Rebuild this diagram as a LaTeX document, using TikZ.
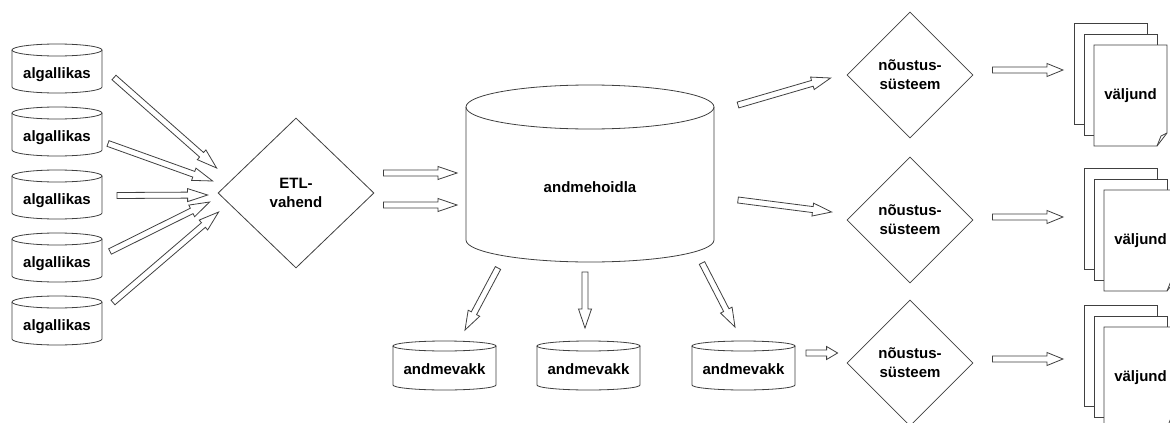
\documentclass[tikz,border=0pt]{standalone}
\usepackage{fontspec}
\setmainfont{Liberation Sans}
\usetikzlibrary{calc,shapes.geometric}
\definecolor{ln}{HTML}{404040}
\tikzset{
  lbl/.style={font=\bfseries\fontsize{15}{19}\selectfont, align=center, inner sep=0pt},
  shp/.style={draw=ln, line width=0.8pt},
  blk/.style={draw=ln, line width=0.8pt, fill=white, line join=miter},
  dia/.style={shp, diamond, aspect=1, inner sep=0pt, font=\bfseries\fontsize{15}{19}\selectfont, align=center},
}
\newcommand\barrow[3][17]{%
  \coordinate (ba) at (#2);
  \coordinate (bb) at (#3);
  \coordinate (bh) at ($(bb)!#1pt!(ba)$);
  \draw[blk] ($(ba)!3pt!90:(bb)$) -- ($(bh)!3pt!90:(bb)$) -- ($(bh)!6.5pt!90:(bb)$) -- (bb)
    -- ($(bh)!6.5pt!-90:(bb)$) -- ($(bh)!3pt!-90:(bb)$) -- ($(ba)!3pt!-90:(bb)$) -- cycle;}
\newcommand\dbcyl[8]{% name, cx, top, w, h, ry, texty, text
  \draw[shp] ({#2-#4/2},{#3+#6}) -- ({#2-#4/2},{#3+#5-#6})
    arc[start angle=180, end angle=360, x radius={#4*0.5pt}, y radius={#6*1pt}]
    -- ({#2+#4/2},{#3+#6});
  \draw[shp] (#2,{#3+#6}) ellipse [x radius={#4*0.5pt}, y radius={#6*1pt}];
  \node[lbl] (#1) at (#2,#7) {#8};}
\newcommand\docstack[3]{% name, x, y of back page
  \draw[shp,fill=white] (#2,#3) rectangle ++(73,101);
  \draw[shp,fill=white] ({#2+10},{#3+11}) rectangle ++(73,101);
  \draw[shp,fill=white] ({#2+20},{#3+22}) -- ++(73,0) -- ++(0,88) -- ++(-10,13) -- ++(-63,0) -- cycle;
  \draw[shp] ({#2+93},{#3+110}) -- ++(-6,3) -- ++(-4,10);
  \node[lbl] (#1) at ({#2+56.5},{#3+72.5}) {väljund};}
\begin{document}
\begin{tikzpicture}[x=1pt,y=-1pt]
\useasboundingbox[fill=white] (0,0) rectangle (1170,423);
% sources
\dbcyl{al1}{57}{44}{90}{49}{6}{74.5}{algallikas}
\dbcyl{al2}{57}{107}{90}{49}{6}{137.5}{algallikas}
\dbcyl{al3}{57}{170}{90}{49}{6}{200.5}{algallikas}
\dbcyl{al4}{57}{233}{90}{49}{6}{263.5}{algallikas}
\dbcyl{al5}{57}{296}{90}{49}{6}{326.5}{algallikas}
% ETL
\node[dia, minimum width=156, minimum height=150] (etl) at (296,193) {ETL-\\vahend};
% warehouse
\dbcyl{hoidla}{590}{85}{248}{177}{22}{187}{andmehoidla}
% marts
\dbcyl{vk1}{444.5}{341}{103}{49}{5}{369}{andmevakk}
\dbcyl{vk2}{588.5}{341}{103}{49}{5}{369}{andmevakk}
\dbcyl{vk3}{743.5}{341}{103}{49}{5}{369}{andmevakk}
% decision systems
\node[dia, minimum width=126, minimum height=126] (ns1) at (910,75) {nõustus-\\süsteem};
\node[dia, minimum width=126, minimum height=126] (ns2) at (910,220) {nõustus-\\süsteem};
\node[dia, minimum width=126, minimum height=126] (ns3) at (910,363) {nõustus-\\süsteem};
% outputs
\docstack{vj1}{1074}{23}
\docstack{vj2}{1084}{168}
\docstack{vj3}{1084}{305}
% arrows sources -> ETL
\barrow[20]{$(al1)+(57,3)$}{$(etl.west)+(-1,-25)$}
\barrow[20]{$(al2)+(51,6)$}{$(etl.west)+(-5,-12)$}
\barrow[20]{$(al3)+(60,-5)$}{$(etl.west)+(-10,2)$}
\barrow[20]{$(al4)+(53,-12)$}{$(etl.west)+(-8,9)$}
\barrow[20]{$(al5)+(56,-24)$}{$(etl.west)+(1,19)$}
% ETL -> warehouse
\barrow[19]{$(etl.east)+(9,-20)$}{$(hoidla)+(-133,-14)$}
\barrow[19]{$(etl.east)+(9,12)$}{$(hoidla)+(-133,18)$}
% warehouse -> marts
\barrow[19]{$(hoidla)+(-92,81)$}{$(vk1)+(20.5,-39)$}
\barrow[19]{$(hoidla)+(-5,85)$}{$(vk2)+(-3.5,-41)$}
\barrow[19]{$(hoidla)+(112,76)$}{$(vk3)+(-8.5,-42)$}
% warehouse -> decision systems
\barrow[19]{$(hoidla)+(148,-82)$}{$(ns1.west)+(-16,3)$}
\barrow[19]{$(hoidla)+(148,13)$}{$(ns2.west)+(-15,-8)$}
\barrow[11]{$(vk3)+(62.5,-16)$}{$(ns3.west)+(-9,-10)$}
% decision systems -> outputs
\barrow[16]{$(ns1.east)+(19,-5)$}{$(vj1)+(-67.5,-25.5)$}
\barrow[16]{$(ns2.east)+(19,-3)$}{$(vj2)+(-77.5,-23.5)$}
\barrow[16]{$(ns3.east)+(19,-4)$}{$(vj3)+(-77.5,-18.5)$}
\end{tikzpicture}
\end{document}
